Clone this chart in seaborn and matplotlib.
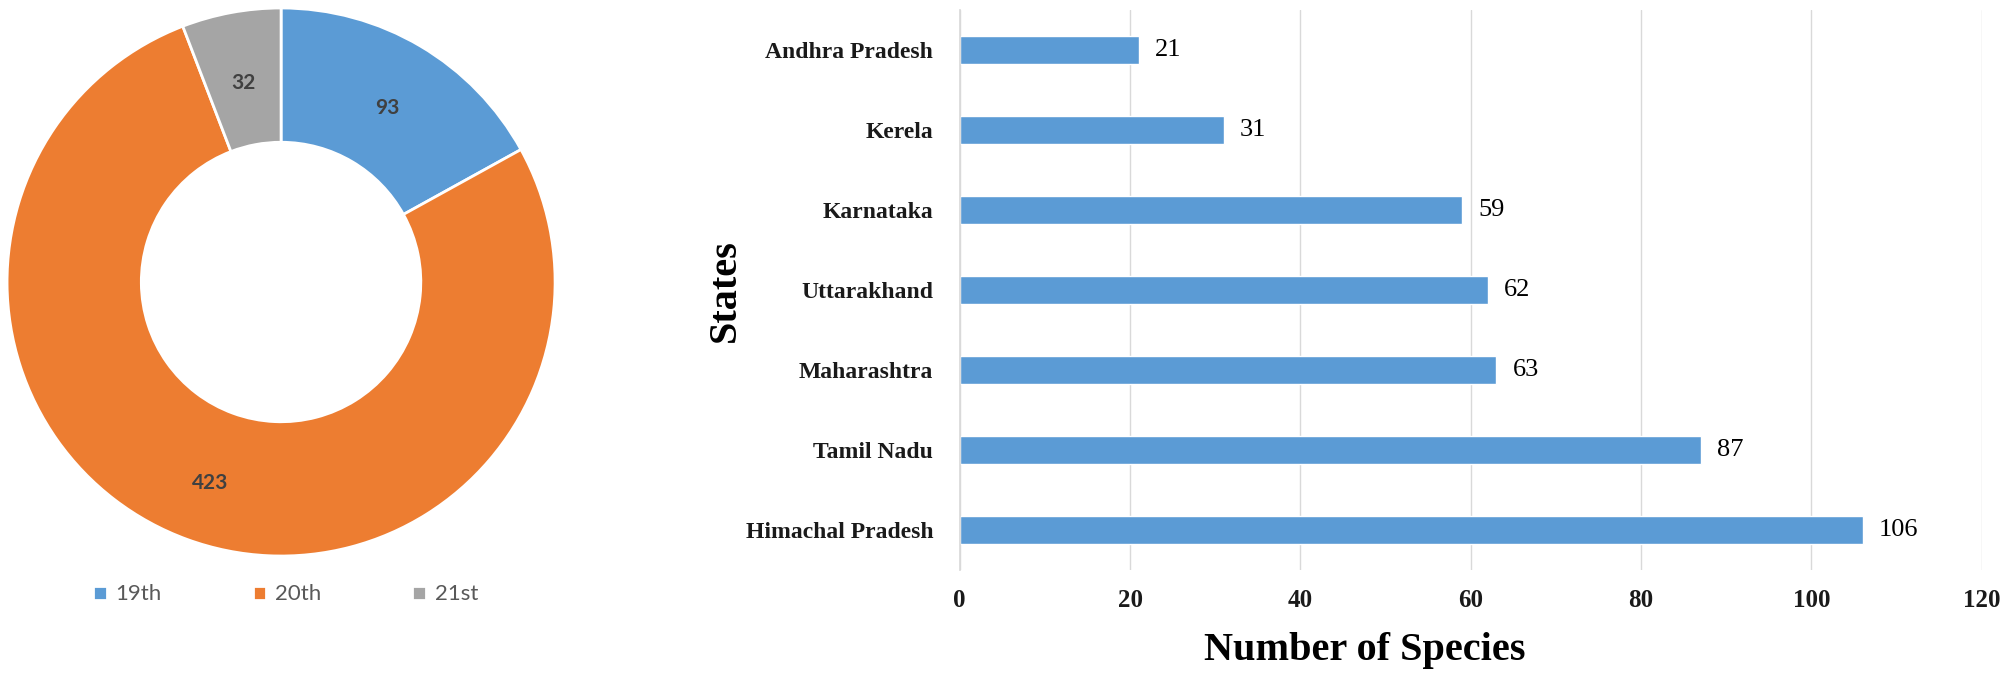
import matplotlib.pyplot as plt
import numpy as np
import pandas as pd
import seaborn as sns

# Data
centuries = ['19th', '20th', '21st']
century_counts = [93, 423, 32]
century_colors = ['#5B9BD5', '#ED7D31', '#A5A5A5']

states = ['Andhra Pradesh', 'Kerela', 'Karnataka', 'Uttarakhand',
          'Maharashtra', 'Tamil Nadu', 'Himachal Pradesh']
species = [21, 31, 59, 62, 63, 87, 106]

sns.set_theme(style='white')

fig = plt.figure(figsize=(20.12, 6.77), dpi=100)

# Donut chart
ax1 = fig.add_axes([0.0035, 0.1787, 0.2724, 0.8095])
wedges, _ = ax1.pie(century_counts, colors=century_colors, startangle=90,
                    counterclock=False, radius=1,
                    wedgeprops=dict(width=0.49, edgecolor='white', linewidth=2))
ax1.set_xlim(-1, 1)
ax1.set_ylim(-1, 1)
ax1.set_aspect('equal')

# value labels in the middle of the ring
total = sum(century_counts)
start = 90.0
for v in century_counts:
    ang = start - v / total * 360 / 2
    r = 0.76
    ax1.text(r * np.cos(np.radians(ang)), r * np.sin(np.radians(ang)) - 0.02, str(v),
             ha='center', va='center', fontsize=15, color='#404040',
             family='Lato', fontweight='bold')
    start -= v / total * 360

leg = fig.legend(wedges, centuries, loc='center', bbox_to_anchor=(0.142, 0.122),
                 ncol=3, frameon=False, handlelength=0.6, handleheight=0.6,
                 columnspacing=4.1, handletextpad=0.4,
                 prop={'family': 'Lato', 'size': 16})
for t in leg.get_texts():
    t.set_color('#595959')

# Bar chart
ax2 = fig.add_axes([0.477, 0.158, 0.508, 0.827])
df = pd.DataFrame({'State': states, 'Species': species})
sns.barplot(data=df, y='State', x='Species', order=states, orient='h',
            color='#5B9BD5', saturation=1, width=0.35, ax=ax2)

ax2.set_xlim(0, 120)
ax2.set_ylim(6.5, -0.5)
ax2.set_xticks(range(0, 121, 20))
ax2.grid(axis='x', color='#D9D9D9', linewidth=1)
ax2.grid(axis='y', visible=False)
ax2.set_axisbelow(True)
for s in ['top', 'right', 'bottom']:
    ax2.spines[s].set_visible(False)
ax2.spines['left'].set_color('#D9D9D9')
ax2.tick_params(axis='both', length=0)
ax2.tick_params(axis='x', pad=14)
ax2.tick_params(axis='y', pad=19)

for lbl in ax2.get_xticklabels():
    lbl.set_family('Liberation Serif')
    lbl.set_fontweight('bold')
    lbl.set_fontsize(18)
    lbl.set_color('#1a1a1a')
for lbl in ax2.get_yticklabels():
    lbl.set_family('Liberation Serif')
    lbl.set_fontweight('bold')
    lbl.set_fontsize(17)
    lbl.set_color('#1a1a1a')

for i, v in enumerate(species):
    ax2.text(v + 1.9, i, str(v), va='center', ha='left', fontsize=19,
             family='Liberation Serif', color='black')

ax2.set_xlabel('Number of Species', family='Liberation Serif', fontweight='bold',
               fontsize=29, color='black')
ax2.set_ylabel('States', family='Liberation Serif', fontweight='bold',
               fontsize=29, color='black')
ax2.xaxis.set_label_coords(0.396, -0.11)
ax2.yaxis.set_label_coords(-0.211, 0.5)

fig.savefig('out.png', dpi=100)
